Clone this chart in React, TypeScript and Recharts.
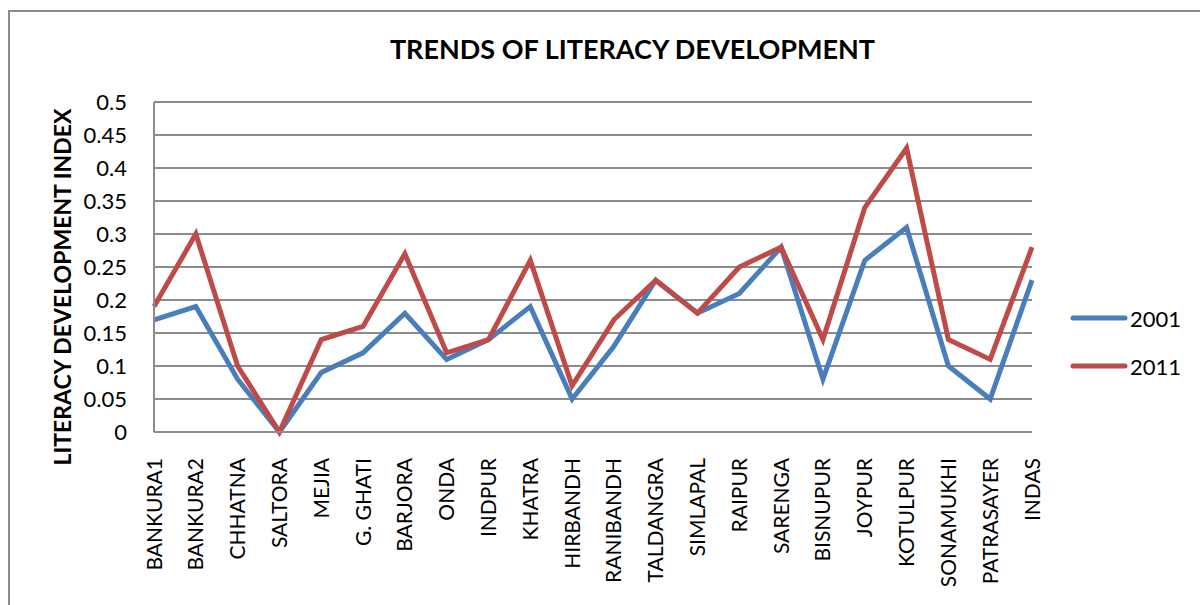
import { LineChart, Line, XAxis, YAxis, CartesianGrid } from "recharts";

const blocks = [
  "BANKURA1", "BANKURA2", "CHHATNA", "SALTORA", "MEJIA", "G. GHATI", "BARJORA",
  "ONDA", "INDPUR", "KHATRA", "HIRBANDH", "RANIBANDH", "TALDANGRA", "SIMLAPAL",
  "RAIPUR", "SARENGA", "BISNUPUR", "JOYPUR", "KOTULPUR", "SONAMUKHI",
  "PATRASAYER", "INDAS",
];
const index2001 = [
  0.17, 0.19, 0.08, 0, 0.09, 0.12, 0.18, 0.11, 0.14, 0.19, 0.05, 0.13, 0.23,
  0.18, 0.21, 0.28, 0.08, 0.26, 0.31, 0.1, 0.05, 0.23,
];
const index2011 = [
  0.19, 0.3, 0.1, 0, 0.14, 0.16, 0.27, 0.12, 0.14, 0.26, 0.07, 0.17, 0.23,
  0.18, 0.25, 0.28, 0.14, 0.34, 0.43, 0.14, 0.11, 0.28,
];
const yTicks = [0, 0.05, 0.1, 0.15, 0.2, 0.25, 0.3, 0.35, 0.4, 0.45, 0.5];

const FONT = "Lato, 'Open Sans', sans-serif";
const BLUE = "#4a7ebb";
const RED = "#be4b48";

const data = blocks.map((name, i) => ({
  name,
  y2001: index2001[i],
  y2011: index2011[i],
}));

function BlockTick(props: any) {
  const { x, y, payload } = props;
  return (
    <text
      x={x}
      y={y + 18}
      dy="0.36em"
      transform={`rotate(-90, ${x}, ${y + 18})`}
      textAnchor="end"
      fontFamily={FONT}
      fontSize={21}
      fill="#000"
    >
      {payload.value}
    </text>
  );
}

function LegendBox() {
  const items = [
    { label: "2001", color: BLUE },
    { label: "2011", color: RED },
  ];
  return (
    <div style={{ fontFamily: FONT, fontSize: 22, color: "#000" }}>
      {items.map((it) => (
        <div key={it.label} style={{ display: "flex", alignItems: "center", height: 48 }}>
          <svg width={58} height={10}>
            <line x1={3} y1={5} x2={55} y2={5} stroke={it.color} strokeWidth={5} strokeLinecap="round" />
          </svg>
          <span style={{ marginLeft: 2 }}>{it.label}</span>
        </div>
      ))}
    </div>
  );
}

export default function App() {
  return (
    <div style={{ position: "fixed", left: 0, top: 0, width: 1200, height: 605, background: "#fff", overflow: "hidden" }}>
      <div
        style={{
          position: "absolute",
          left: 8,
          top: 10,
          width: 1200,
          height: 600,
          borderLeft: "2px solid #8c8c8c",
          borderTop: "2px solid #8c8c8c",
        }}
      />
      <div
        style={{
          position: "absolute",
          left: 0,
          width: 1265,
          top: 32,
          textAlign: "center",
          fontFamily: FONT,
          fontWeight: 700,
          fontSize: 27,
        }}
      >
        TRENDS OF LITERACY DEVELOPMENT
      </div>
      <div
        style={{
          position: "absolute",
          left: 62,
          top: 287,
          transform: "translate(-50%, -50%) rotate(-90deg)",
          whiteSpace: "nowrap",
          fontFamily: FONT,
          fontWeight: 700,
          fontSize: 23,
        }}
      >
        LITERACY DEVELOPMENT INDEX
      </div>
      <div style={{ position: "absolute", left: 0, top: 0 }}>
        <LineChart
          width={1200}
          height={605}
          data={data}
          margin={{ top: 102, right: 168, left: 94, bottom: 23 }}
        >
          <CartesianGrid vertical={false} stroke="#8c8c8c" strokeWidth={2} />
          <XAxis
            dataKey="name"
            interval={0}
            height={150}
            axisLine={{ stroke: "#8c8c8c", strokeWidth: 2 }}
            tickLine={false}
            tick={<BlockTick />}
          />
          <YAxis
            domain={[0, 0.5]}
            ticks={yTicks}
            interval={0}
            width={60}
            axisLine={{ stroke: "#8c8c8c", strokeWidth: 2 }}
            tickLine={false}
            tickSize={0}
            tickMargin={27}
            tick={{ fill: "#000", fontSize: 22, fontFamily: FONT }}
          />
          <Line
            type="linear"
            dataKey="y2001"
            name="2001"
            stroke={BLUE}
            strokeWidth={5}
            dot={false}
            isAnimationActive={false}
          />
          <Line
            type="linear"
            dataKey="y2011"
            name="2011"
            stroke={RED}
            strokeWidth={5}
            dot={false}
            isAnimationActive={false}
          />
        </LineChart>
      </div>
      <div style={{ position: "absolute", left: 1070, top: 294 }}>
        <LegendBox />
      </div>
    </div>
  );
}
